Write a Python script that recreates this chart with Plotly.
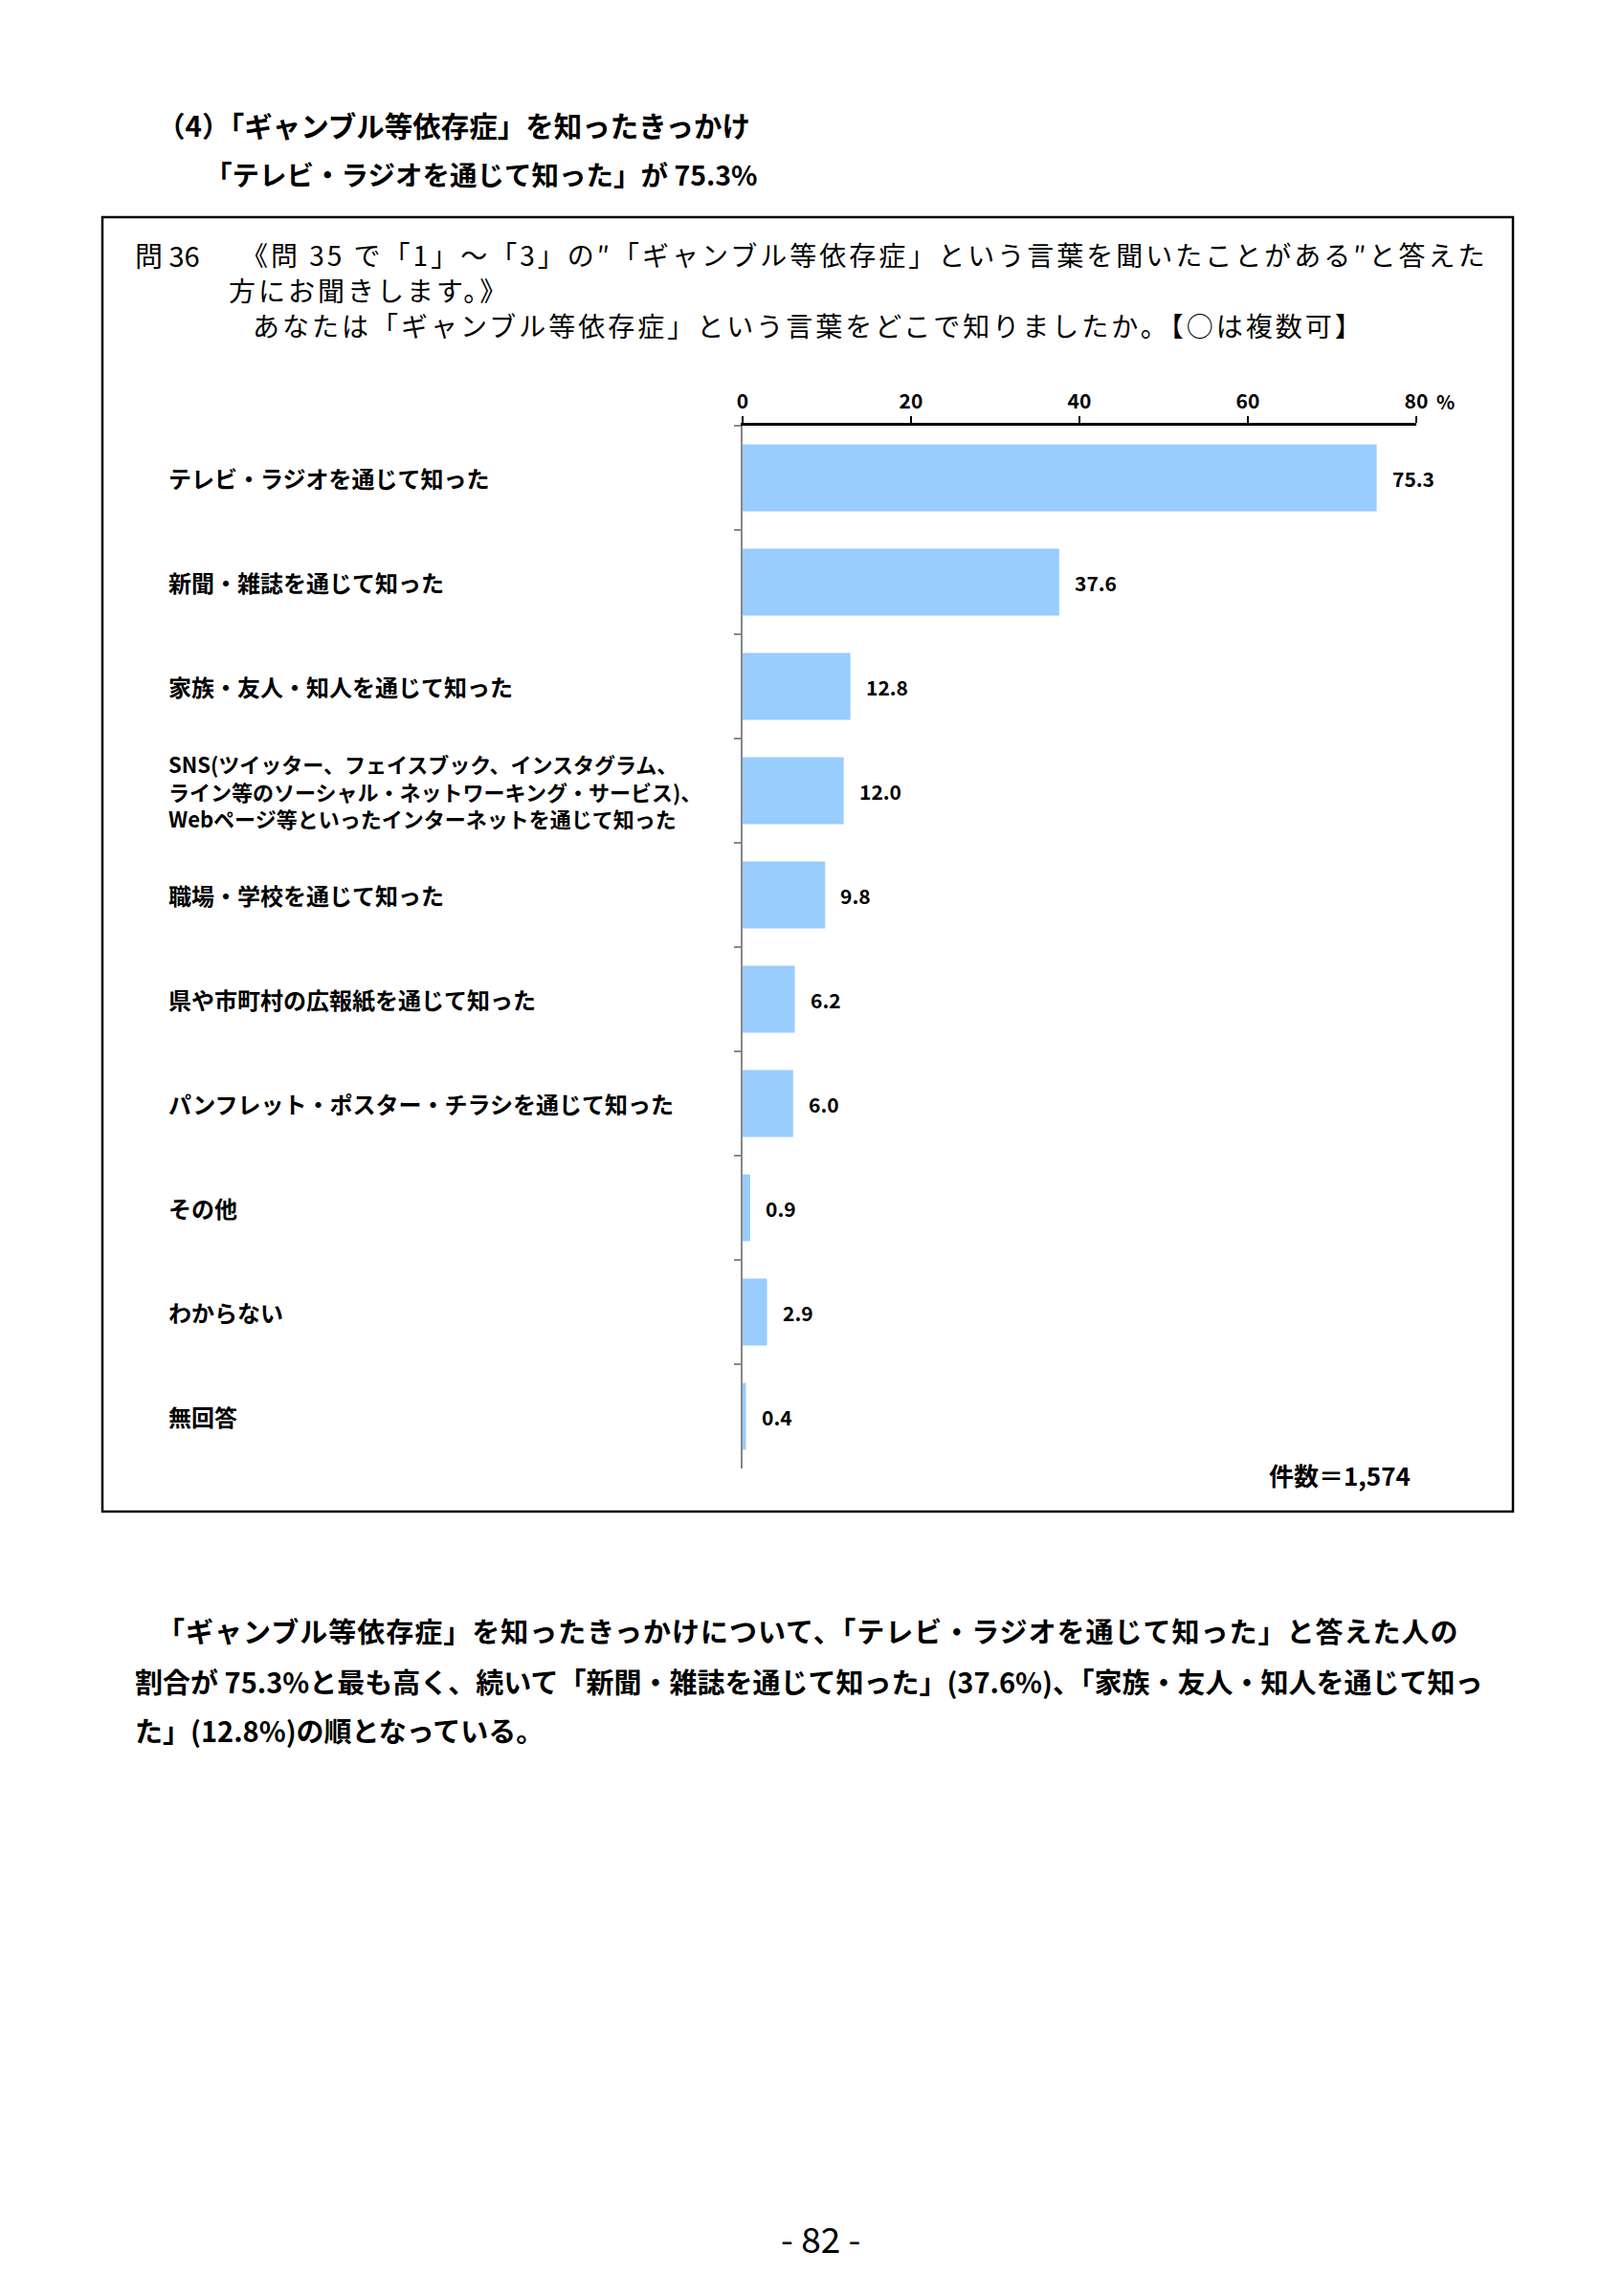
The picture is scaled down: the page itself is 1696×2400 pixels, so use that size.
import plotly.graph_objects as go

# ---------------- data ----------------
categories = [
    "テレビ・ラジオを通じて知った",
    "新聞・雑誌を通じて知った",
    "家族・友人・知人を通じて知った",
    "SNS(ツイッター、フェイスブック、インスタグラム、<br>ライン等のソーシャル・ネットワーキング・サービス)、<br>Webページ等といったインターネットを通じて知った",
    "職場・学校を通じて知った",
    "県や市町村の広報紙を通じて知った",
    "パンフレット・ポスター・チラシを通じて知った",
    "その他",
    "わからない",
    "無回答",
]
values = [75.3, 37.6, 12.8, 12.0, 9.8, 6.2, 6.0, 0.9, 2.9, 0.4]
tick_values = [0, 20, 40, 60, 80]
tick_labels = ["0", "20", "40", "60", "80"]
unit_label = "%"
count_label = "件数＝1,574"

title_lines = [
    "（4）「ギャンブル等依存症」を知ったきっかけ",
    "「テレビ・ラジオを通じて知った」が 75.3%",
]
question_no = "問 36"
question_lines = [
    "《問 35 で「1」～「3」の″「ギャンブル等依存症」という言葉を聞いたことがある″と答えた",
    "方にお聞きします。》",
    "あなたは「ギャンブル等依存症」という言葉をどこで知りましたか。【○は複数可】",
]
paragraph_lines = [
    "「ギャンブル等依存症」を知ったきっかけについて、「テレビ・ラジオを通じて知った」と答えた人の",
    "割合が 75.3%と最も高く、続いて「新聞・雑誌を通じて知った」(37.6%)、「家族・友人・知人を通じて知っ",
    "た」(12.8%)の順となっている。",
]
page_number = "- 82 -"

# ---------------- layout helpers ----------------
W, H = 1696, 2400
OFF = 8  # page body margin of the browser
L, R, T, B = 776, 1480, 445, 1535  # plot area in screenshot pixels
FONT = "Noto Sans CJK JP"


def px(x):
    return (x - L) / (R - L)


def py(y):
    return (B - y) / (B - T)


BLUE = "#99CCFF"

fig = go.Figure()
fig.add_trace(go.Bar(
    x=values,
    y=categories,
    orientation="h",
    width=0.64,
    marker=dict(color=BLUE, line=dict(width=0)),
    hoverinfo="skip",
))

annotations = []
# category labels
for c in categories:
    size = 22 if "<br>" in c else 24
    annotations.append(dict(
        x=px(174), xref="paper", y=c, yref="y", text=c,
        xanchor="left", yanchor="middle", align="left", showarrow=False,
        font=dict(family=FONT, size=size, color="black", weight=700),
    ))
# value labels
for c, v in zip(categories, values):
    annotations.append(dict(
        x=v, xref="x", y=c, yref="y", text=f"{v:.1f}",
        xanchor="left", yanchor="middle", xshift=14, showarrow=False,
        font=dict(family=FONT, size=21, color="black", weight=700),
    ))
# unit next to 80
annotations.append(dict(
    x=px(1499), xref="paper", y=py(419), yref="paper", text=unit_label,
    xanchor="left", yanchor="middle", showarrow=False,
    font=dict(family=FONT, size=20, color="black", weight=700),
))
# count
annotations.append(dict(
    x=px(1476), xref="paper", y=py(1541), yref="paper", text=count_label,
    xanchor="right", yanchor="middle", showarrow=False,
    font=dict(family=FONT, size=26, color="black", weight=700),
))
# titles
annotations.append(dict(
    x=px(162), xref="paper", y=py(130), yref="paper", text=title_lines[0],
    xanchor="left", yanchor="middle", showarrow=False,
    font=dict(family=FONT, size=29.5, color="black", weight=700),
))
annotations.append(dict(
    x=px(212), xref="paper", y=py(182), yref="paper", text=title_lines[1],
    xanchor="left", yanchor="middle", showarrow=False,
    font=dict(family=FONT, size=28.5, color="black", weight=700),
))
# question
qfont = dict(family=FONT, size=28, color="black")
annotations.append(dict(
    x=px(139), xref="paper", y=py(266), yref="paper", text=question_no,
    xanchor="left", yanchor="middle", showarrow=False,
    font=dict(family=FONT, size=29, color="black"),
))
for (x0, y0), t in zip([(251, 266), (238, 303), (263, 340)], question_lines):
    annotations.append(dict(
        x=px(x0), xref="paper", y=py(y0), yref="paper", text=t,
        xanchor="left", yanchor="middle", align="left", showarrow=False,
        font=qfont, borderpad=0,
    ))
# paragraph
pfont = dict(family=FONT, size=29, color="black", weight=700)
for (x0, y0), t in zip([(162, 1704), (139, 1757), (139, 1808)], paragraph_lines):
    annotations.append(dict(
        x=px(x0), xref="paper", y=py(y0), yref="paper", text=t,
        xanchor="left", yanchor="middle", align="left", showarrow=False,
        font=pfont,
    ))
# page number
annotations.append(dict(
    x=px(857), xref="paper", y=py(2339), yref="paper", text=page_number,
    xanchor="center", yanchor="middle", showarrow=False,
    font=dict(family=FONT, size=37, color="black"),
))

shapes = [dict(
    type="rect", xref="paper", yref="paper",
    x0=px(107), x1=px(1581), y0=py(1580), y1=py(227),
    line=dict(color="black", width=2.5), fillcolor="rgba(0,0,0,0)", layer="below",
)]

fig.update_layout(
    width=W, height=H,
    margin=dict(l=L - OFF, r=W - (R - OFF), t=T - OFF, b=H - (B - OFF), pad=0),
    paper_bgcolor="white", plot_bgcolor="white",
    showlegend=False,
    annotations=annotations,
    shapes=shapes,
    xaxis=dict(
        side="top", range=[0, 80], tickvals=tick_values, ticktext=tick_labels,
        showline=True, linecolor="black", linewidth=2.5,
        ticks="outside", ticklen=7, tickwidth=2, tickcolor="black",
        showgrid=False, zeroline=False, ticklabelstandoff=0,
        tickfont=dict(family=FONT, size=21, color="black", weight=700),
        fixedrange=True,
    ),
    yaxis=dict(
        type="category", range=[9.5, -0.5],
        showline=True, linecolor="#888888", linewidth=1.5,
        ticks="outside", ticklen=7, tickwidth=1.5, tickcolor="#888888",
        tickson="boundaries", showticklabels=False, showgrid=False,
        zeroline=False, fixedrange=True,
    ),
)

# widen the letter spacing of the question text (the original font is wider)
post_script = """
document.querySelectorAll('text.annotation-text').forEach(function(t){
  var s = t.textContent;
  if (s.indexOf('《問') === 0 || s.indexOf('方にお聞き') === 0 || s.indexOf('あなたは') === 0) {
    t.style.letterSpacing = '3px';
  }
  if (s.indexOf('「ギャンブル等依存症」を知ったきっかけについて') === 0) {
    t.style.letterSpacing = '1px';
  }
});
"""

fig.write_html("out.html", post_script=post_script)
